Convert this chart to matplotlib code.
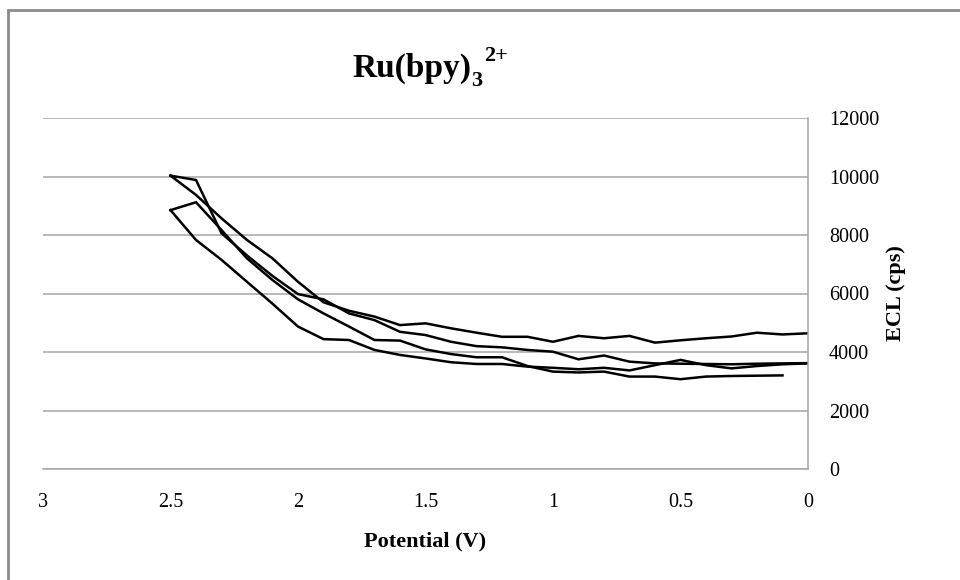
import matplotlib
matplotlib.use("Agg")
import matplotlib.pyplot as plt
from matplotlib.patches import Rectangle

plt.rcParams['font.family'] = ['Liberation Serif', 'DejaVu Serif']

potential = [2.5, 2.4, 2.3, 2.2, 2.1, 2.0, 1.9, 1.8, 1.7, 1.6, 1.5, 1.4, 1.3,
             1.2, 1.1, 1.0, 0.9, 0.8, 0.7, 0.6, 0.5, 0.4, 0.3, 0.2, 0.1, 0.0]

run_a = [10030, 9370, 8570, 7830, 7200, 6400, 5700, 5410, 5210, 4920, 4980, 4810, 4660,
         4520, 4520, 4350, 4550, 4470, 4550, 4320, 4400, 4470, 4530, 4660, 4600, 4640]
run_b = [10030, 9880, 8060, 7300, 6600, 5980, 5800, 5320, 5090, 4690, 4580, 4350, 4200,
         4160, 4070, 4010, 3750, 3880, 3670, 3610, 3600, 3590, 3580, 3600, 3610, 3620]
run_c = [8850, 9120, 8170, 7200, 6460, 5800, 5320, 4870, 4410, 4390, 4090, 3930, 3820,
         3820, 3520, 3330, 3300, 3330, 3160, 3160, 3070, 3160, 3180, 3190, 3200]
run_d = [8850, 7830, 7150, 6400, 5650, 4870, 4440, 4410, 4070, 3900, 3780, 3650, 3590,
         3590, 3500, 3460, 3410, 3460, 3370, 3550, 3730, 3550, 3440, 3520, 3580, 3610]

x_ticks = [3, 2.5, 2, 1.5, 1, 0.5, 0]
x_tick_labels = ["3", "2.5", "2", "1.5", "1", "0.5", "0"]
y_ticks = [0, 2000, 4000, 6000, 8000, 10000, 12000]

fig = plt.figure(figsize=(9.6, 5.8), dpi=100)
ax = fig.add_axes([43/960, 1 - 469/580, (808 - 43)/960, (469 - 118)/580])

for run in (run_a, run_b, run_c, run_d):
    ax.plot(potential[:len(run)], run, color='black', linewidth=1.8,
            solid_joinstyle='miter')

ax.set_xlim(3, 0)
ax.set_ylim(0, 12000)
ax.set_xticks(x_ticks)
ax.set_xticklabels(x_tick_labels)
ax.set_yticks(y_ticks)
ax.yaxis.tick_right()
ax.yaxis.set_label_position('right')
ax.tick_params(axis='both', length=0, labelsize=14.5)
ax.tick_params(axis='x', pad=17)
ax.tick_params(axis='y', pad=15)
ax.grid(axis='y', color='#a6a6a6', linewidth=1.1)
ax.set_axisbelow(True)
for side in ('top', 'left'):
    ax.spines[side].set_visible(False)
for side in ('right', 'bottom'):
    ax.spines[side].set_color('#a6a6a6')
    ax.spines[side].set_linewidth(1.1)

ax.set_xlabel('Potential (V)', fontsize=16, fontweight='bold', labelpad=14)
ax.set_ylabel('ECL (cps)', fontsize=16, fontweight='bold', labelpad=5)

# Title: Ru(bpy)3 2+ with subscript followed by superscript
t_main = fig.text(352/960, 1 - 68/580, 'Ru(bpy)', fontsize=24,
                  fontweight='bold', ha='left', va='center')
ax.annotate('3', xy=(1.0, 0.0), xycoords=t_main, fontsize=16,
            fontweight='bold', ha='left', va='center',
            xytext=(0.3, 2), textcoords='offset points', annotation_clip=False)
ax.annotate('2+', xy=(1.0, 0.9), xycoords=t_main, fontsize=16,
            fontweight='bold', ha='left', va='center',
            xytext=(9.5, 0), textcoords='offset points', annotation_clip=False)

fig.patches.append(Rectangle((8/960, -0.1), 1.2, 1.1 - 10/580,
                             transform=fig.transFigure, fill=False,
                             edgecolor='#8c8c8c', linewidth=2))

fig.savefig('out.png', dpi=100)
